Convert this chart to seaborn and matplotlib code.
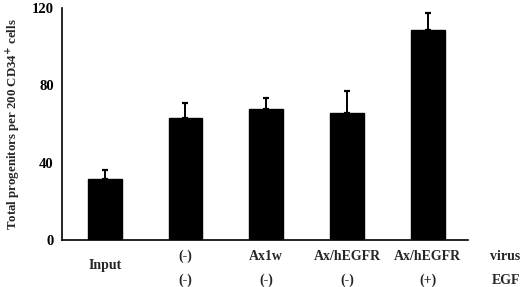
import pandas as pd
import seaborn as sns
import matplotlib.pyplot as plt
from matplotlib.transforms import blended_transform_factory

# values
virus = ["Input", "(-)", "Ax1w", "Ax/hEGFR", "Ax/hEGFR"]
egf = ["", "(-)", "(-)", "(-)", "(+)"]
progenitors = [31.4, 63.0, 67.8, 65.7, 108.6]
errors = [4.8, 8.0, 5.8, 11.3, 9.0]
yticks = [0, 40, 80, 120]

sns.set_style("white")
plt.rcParams["font.family"] = ["Liberation Serif", "DejaVu Serif"]
plt.rcParams["font.weight"] = "bold"

df = pd.DataFrame({"group": [str(i) for i in range(len(virus))],
                   "value": progenitors})

fig = plt.figure(figsize=(5.2, 2.87), dpi=100)
ax = fig.add_axes([62 / 520, 1 - 240 / 287, 406 / 520, 232 / 287])

sns.barplot(data=df, x="group", y="value", color="black", width=0.42,
            saturation=1, edgecolor="black", ax=ax)
ax.errorbar(range(len(progenitors)), progenitors,
            yerr=[[0] * len(errors), errors], fmt="none", ecolor="black",
            elinewidth=1.4, capsize=2.5, capthick=1.6)

ax.set_xlim(-0.53, 4.5)
ax.set_ylim(0, 120)
ax.set_yticks(yticks)
ax.set_yticks([20, 60, 100], minor=True)
ax.set_yticklabels([str(t) for t in yticks], fontsize=10.5, fontweight="bold")
ax.set_xticks([0.5, 1.5, 2.5, 3.5, 4.5])
ax.set_xticklabels([])
ax.tick_params(axis="both", which="both", direction="in", length=3,
               width=1, colors="black")
ax.tick_params(axis="y", which="major", pad=6)
ax.set_xlabel("")
ax.set_ylabel("Total progenitors per 200 CD34$^{+}$ cells", fontsize=9.3,
              fontweight="bold", labelpad=6)
sns.despine(ax=ax)
for side in ["left", "bottom"]:
    ax.spines[side].set_linewidth(1.2)
    ax.spines[side].set_color("black")

# category labels under the bars
lab = dict(ha="center", va="center", fontsize=10, fontweight="bold")
trans = blended_transform_factory(ax.transData, fig.transFigure)
for i, (v, e) in enumerate(zip(virus, egf)):
    if e == "":
        ax.text(i, 1 - 266 / 287, v, transform=trans, **lab)
    else:
        ax.text(i, 1 - 256 / 287, v, transform=trans, **lab)
        ax.text(i, 1 - 280 / 287, e, transform=trans, **lab)
fig.text(490 / 520, 1 - 256 / 287, "virus", ha="left", va="center",
         fontsize=10, fontweight="bold")
fig.text(492 / 520, 1 - 280 / 287, "EGF", ha="left", va="center",
         fontsize=10, fontweight="bold")

plt.savefig("out.png", dpi=100)
